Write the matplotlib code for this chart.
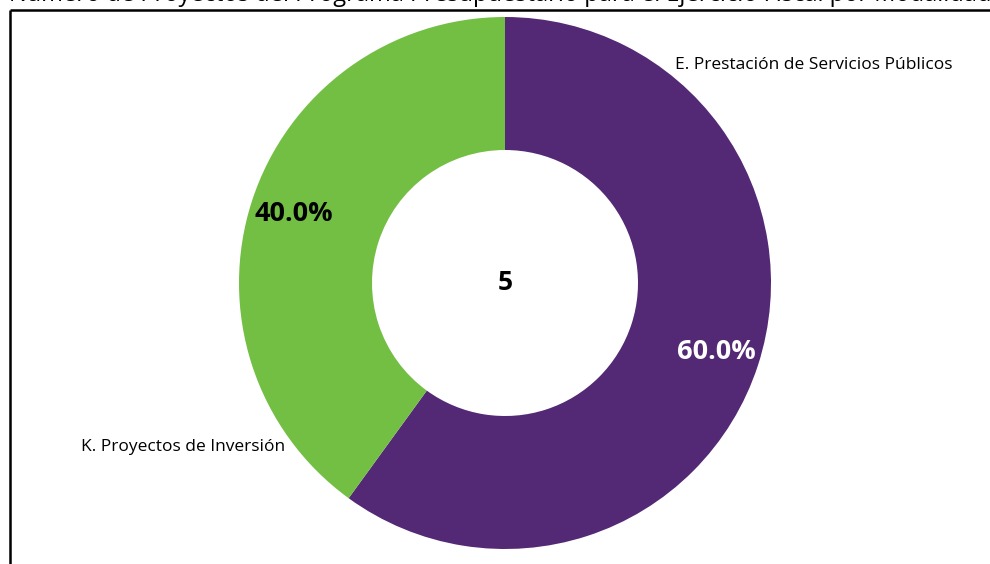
import matplotlib.pyplot as plt

categories = ["E. Prestación de Servicios Públicos", "K. Proyectos de Inversión"]
values = [3, 2]
colors = ["#532874", "#72BF44"]
total = sum(values)

plt.rcParams['font.family'] = ['Open Sans', 'DejaVu Sans']

fig = plt.figure(figsize=(9.9, 5.64), dpi=100)
ax = fig.add_axes([0, 0, 1, 1])

wedges, texts, autotexts = ax.pie(
    values, colors=colors, startangle=90, counterclock=False,
    center=(505, 281), radius=266, autopct='%1.1f%%', pctdistance=0.835,
    wedgeprops=dict(width=133, linewidth=0),
    textprops=dict(fontsize=19.5, fontweight='bold'))
autotexts[0].set_color('white')
autotexts[1].set_color('black')

ax.set_xlim(0, 990)
ax.set_ylim(0, 564)
ax.set_aspect('equal')
ax.axis('off')

# total in the hole
ax.text(505, 281, str(total), ha='center', va='center', fontsize=19, fontweight='bold')

# category labels
ax.text(675, 499, categories[0], ha='left', va='center', fontsize=12.5)
ax.text(285, 117, categories[1], ha='right', va='center', fontsize=12.5)

# title (cut off at the top edge, as in the source screenshot) and chart frame
ax.text(500, 563, "Número de Proyectos del Programa Presupuestario para el Ejercicio Fiscal por Modalidad",
        ha='center', va='baseline', fontsize=17, clip_on=False)
ax.plot([10, 10], [0, 554], color='black', lw=1.8, solid_capstyle='butt')
ax.plot([10, 990], [554, 554], color='black', lw=1.8, solid_capstyle='butt')

fig.savefig("out.png", dpi=100)
